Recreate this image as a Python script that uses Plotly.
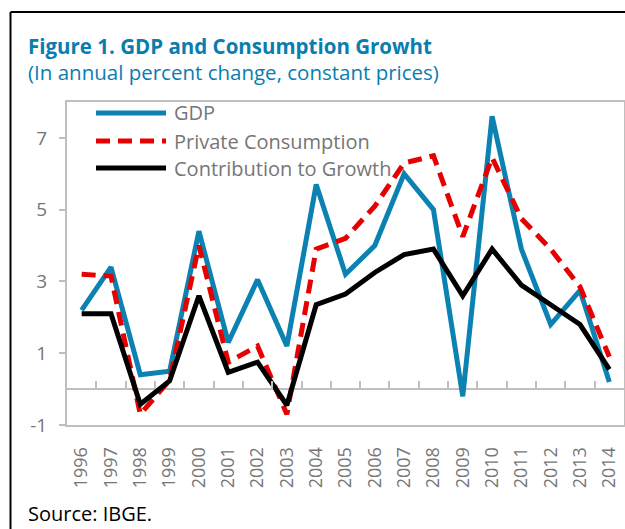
import plotly.graph_objects as go

years = [str(y) for y in range(1996, 2015)]
gdp = [2.2, 3.4, 0.4, 0.5, 4.4, 1.3, 3.05, 1.2, 5.7, 3.2, 4.0, 6.0, 5.0, -0.2, 7.6, 3.9, 1.8, 2.75, 0.2]
private_consumption = [3.2, 3.15, -0.7, 0.25, 4.0, 0.75, 1.2, -0.7, 3.9, 4.2, 5.1, 6.3, 6.5, 4.25, 6.45, 4.75, 3.9, 2.85, 0.9]
contribution = [2.1, 2.1, -0.42, 0.23, 2.6, 0.47, 0.75, -0.45, 2.35, 2.65, 3.25, 3.75, 3.9, 2.6, 3.9, 2.9, 2.35, 1.8, 0.55]
series_names = ["GDP", "Private Consumption", "Contribution to Growth"]
y_ticks = [-1, 1, 3, 5, 7]
y_tick_labels = ["-1", "1", "3", "5", "7"]
y_range = [-1, 8]

FONT = "Open Sans"
GRAY = "#767676"
AXIS = "#BFBFBF"
BLUE = "#0B82B2"
RED = "#E60000"
TITLE_C = "#0A7DB0"

styles = [
    dict(color=BLUE, width=5),
    dict(color=RED, width=5, dash="14px,8px"),
    dict(color="black", width=5),
]

n = len(years)
idx = list(range(n))
boundaries = [i + 0.5 for i in range(n - 1)]

fig = go.Figure()
for name, vals, st in zip(series_names, [gdp, private_consumption, contribution], styles):
    fig.add_trace(go.Scatter(x=years, y=vals, mode="lines", name=name, line=st,
                             showlegend=False, hoverinfo="skip"))

# invisible trace carrying the tick-only axis drawn along y = 0
fig.add_trace(go.Scatter(x=idx, y=[0] * n, xaxis="x2", mode="markers",
                         marker=dict(size=1, opacity=0), showlegend=False, hoverinfo="skip"))

zero_pos = (0 - y_range[0]) / (y_range[1] - y_range[0])

fig.update_layout(
    width=625, height=529,
    margin=dict(l=67, r=1, t=102, b=104, autoexpand=False),
    paper_bgcolor="white", plot_bgcolor="white",
    font=dict(family=FONT, color=GRAY, size=18),
    hovermode=False,
    xaxis=dict(type="category", categoryorder="array", categoryarray=years,
               range=[-0.5, n - 0.5], automargin=False,
               showline=True, mirror=True, linecolor=AXIS, linewidth=2,
               ticks="", tickangle=-90, showgrid=False, zeroline=False,
               tickfont=dict(size=18, color=GRAY), ticklabelstandoff=13),
    xaxis2=dict(type="linear", range=[-0.5, n - 0.5], overlaying="x", anchor="free",
                automargin=False, position=zero_pos, side="top", showline=False,
                tickmode="array", tickvals=boundaries,
                ticks="outside", ticklen=8, tickwidth=2, tickcolor=AXIS,
                showticklabels=False, showgrid=False, zeroline=False),
    yaxis=dict(range=y_range, tickmode="array", tickvals=y_ticks, ticktext=y_tick_labels,
               ticks="outside", ticklen=6,
               tickwidth=2, tickcolor=AXIS, showline=True, mirror=True, automargin=False,
               linecolor=AXIS, linewidth=2, showgrid=False,
               zeroline=True, zerolinecolor=AXIS, zerolinewidth=2,
               tickfont=dict(size=19, color=GRAY), ticklabelstandoff=8),
)

# title, subtitle, source
PW, PH, L, T = 557, 323, 67, 102
def px(x):
    return (x - L) / PW
def py(y):
    return (T + PH - y) / PH

fig.add_annotation(text="<b>Figure 1. GDP and Consumption Growht</b>", xref="paper", yref="paper",
                   x=px(26), y=py(46), xanchor="left", yanchor="middle", showarrow=False,
                   font=dict(family=FONT, size=20.5, color=TITLE_C))
fig.add_annotation(text="(In annual percent change, constant prices)", xref="paper", yref="paper",
                   x=px(26), y=py(72), xanchor="left", yanchor="middle", showarrow=False,
                   font=dict(family=FONT, size=20.5, color=TITLE_C))
fig.add_annotation(text="Source: IBGE.", xref="paper", yref="paper",
                   x=px(26), y=py(513), xanchor="left", yanchor="middle", showarrow=False,
                   font=dict(family=FONT, size=20, color="black"))

# legend (manual, long line samples)
leg_y = [113, 141, 168]
for name, st, yy in zip(series_names, styles, leg_y):
    fig.add_shape(type="line", xref="paper", yref="paper", x0=px(96), x1=px(166),
                  y0=py(yy), y1=py(yy), line=st)
    fig.add_annotation(text=name, xref="paper", yref="paper", x=px(172), y=py(yy),
                       xanchor="left", yanchor="middle", showarrow=False,
                       font=dict(family=FONT, size=20, color=GRAY))

# outer black frame (left and top edges)
fig.add_shape(type="line", xref="paper", yref="paper", x0=px(10.5), x1=px(10.5),
              y0=py(12), y1=py(560), line=dict(color="black", width=2))
fig.add_shape(type="line", xref="paper", yref="paper", x0=px(10.5), x1=px(700),
              y0=py(12), y1=py(12), line=dict(color="black", width=2))

fig.write_html("out.html", config={"displayModeBar": False},
               post_script="document.body.style.margin='0';")
